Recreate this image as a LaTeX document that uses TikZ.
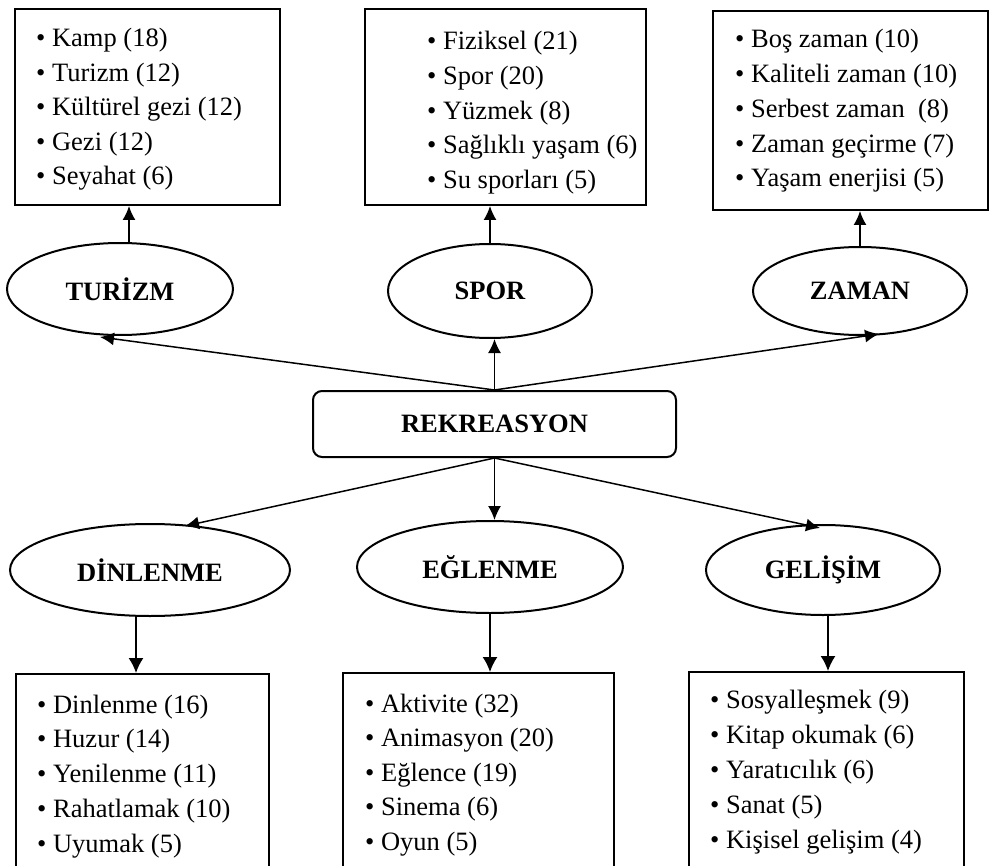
\documentclass[tikz,border=0pt]{standalone}
\usepackage{fontspec}
\setmainfont{Liberation Serif}
\usetikzlibrary{shapes.geometric,arrows.meta}
\begin{document}
\begin{tikzpicture}[x=1pt,y=-1pt,
  listbox/.style={draw,line width=2pt,inner sep=0pt,anchor=north west},
  oval/.style={draw,ellipse,line width=2pt,inner sep=0pt,font=\fontsize{26.5}{30}\selectfont\bfseries},
  item/.style={anchor=base west,inner sep=0pt,font=\fontsize{26.5}{30}\selectfont},
  arr/.style={line width=1.5pt,-{Latex[length=14pt,width=13pt]}},
  arrbig/.style={line width=1.6pt,-{Latex[length=15pt,width=15pt]}}]
\clip (0,0) rectangle (990,866);
\fill[white] (0,0) rectangle (990,866);

% top boxes
\node[listbox,minimum width=265pt,minimum height=196pt] (tb) at (14,8) {};
\node[listbox,minimum width=281pt,minimum height=196pt] (sb) at (364,8) {};
\node[listbox,minimum width=275pt,minimum height=199pt] (zb) at (712,10) {};
% bottom boxes
\node[listbox,minimum width=253pt,minimum height=230pt] (db) at (15,673) {};
\node[listbox,minimum width=271pt,minimum height=230pt] (eb) at (342,672) {};
\node[listbox,minimum width=275pt,minimum height=230pt] (gb) at (688,671) {};

% ellipses
\node[oval,minimum width=226pt,minimum height=92pt] (tur) at (120,289) {TURİZM};
\node[oval,minimum width=204pt,minimum height=94pt] (sp) at (490,291) {SPOR};
\node[oval,minimum width=214pt,minimum height=88pt] (zm) at (860,291) {ZAMAN};
\node[oval,minimum width=280pt,minimum height=92pt] (din) at (150,570) {DİNLENME};
\node[oval,minimum width=266pt,minimum height=92pt] (eg) at (490,567) {EĞLENME};
\node[oval,minimum width=234pt,minimum height=90pt] (gl) at (823,570) {GELİŞİM};

% center
\node[draw,line width=2pt,rounded corners=9pt,minimum width=363pt,minimum height=66pt,
      inner sep=0pt,font=\fontsize{26.5}{30}\selectfont\bfseries] (rek) at (494.5,424) {REKREASYON};

% arrows from center
\coordinate (t1) at (100,337);
\coordinate (t3) at (879,334);
\coordinate (b1) at (185,526);
\coordinate (b3) at (820,528);
\draw[arr] (rek.north) -- (t1);
\draw[arr] (rek.north) -- (rek.north |- sp.south);
\draw[arr] (rek.north) -- (t3);
\draw[arr] (rek.south) -- (b1);
\draw[arr] (rek.south) -- (rek.south |- eg.north);
\draw[arr] (rek.south) -- (b3);

% ellipses to boxes
\coordinate (u1) at (129,243);
\coordinate (d1) at (136,616);
\coordinate (d3) at (828,614);
\draw[arr] (u1) -- (u1 |- tb.south);
\draw[arr] (sp.north) -- (sp.north |- sb.south);
\draw[arr] (zm.north) -- (zm.north |- zb.south);
\draw[arrbig] (d1) -- (d1 |- db.north);
\draw[arrbig] (eg.south) -- (eg.south |- eb.north);
\draw[arrbig] (d3) -- (d3 |- gb.north);

% lists
\foreach \t [count=\i] in {Kamp (18),Turizm (12),Kültürel gezi (12),Gezi (12),Seyahat (6)}
  \node[item] (ta\i) at (36,{47+34.5*(\i-1)}) {• \t};
\foreach \t [count=\i] in {Fiziksel (21),Spor (20),Yüzmek (8),Sağlıklı yaşam (6),Su sporları (5)}
  \node[item] (sa\i) at (427,{50+34.6*(\i-1)}) {• \t};
\foreach \t [count=\i] in {Boş zaman (10),Kaliteli zaman (10),Serbest zaman~ (8),Zaman geçirme (7),Yaşam enerjisi (5)}
  \node[item] (za\i) at (735,{48+34.7*(\i-1)}) {• \t};
\foreach \t [count=\i] in {Dinlenme (16),Huzur (14),Yenilenme (11),Rahatlamak (10),Uyumak (5)}
  \node[item] (da\i) at (37,{713+34.8*(\i-1)}) {• \t};
\foreach \t [count=\i] in {Aktivite (32),Animasyon (20),Eğlence (19),Sinema (6),Oyun (5)}
  \node[item] (ea\i) at (365,{712+34.6*(\i-1)}) {• \t};
\foreach \t [count=\i] in {Sosyalleşmek (9),Kitap okumak (6),Yaratıcılık (6),Sanat (5),Kişisel gelişim (4)}
  \node[item] (ga\i) at (710,{708+35*(\i-1)}) {• \t};
\end{tikzpicture}
\end{document}
